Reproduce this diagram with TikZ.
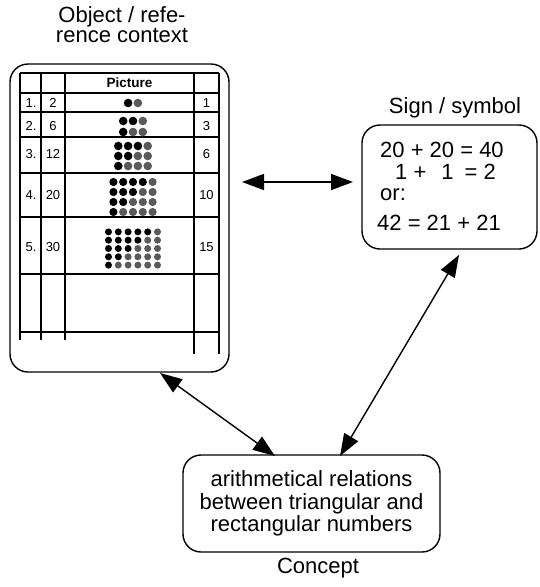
\documentclass[tikz,border=0pt]{standalone}
\usepackage{fontspec}
\setmainfont{Liberation Sans}
\usetikzlibrary{arrows.meta}

\begin{document}
\begin{tikzpicture}[x=1pt, y=-1pt,
	box/.style={draw, line width=1.4pt, rounded corners=18pt, inner sep=0pt},
	title/.style={font=\fontsize{22}{20.5}\selectfont, align=center, inner sep=0pt},
	sumline/.style={font=\fontsize{22}{22}\selectfont, inner sep=0pt, anchor=base west},
	cell/.style={font=\fontsize{13}{14}\selectfont, inner sep=0pt},
	rule/.style={line width=1.1pt},
	biarrow/.style={{Triangle[length=22pt,width=16pt]}-{Triangle[length=22pt,width=16pt]}, line width=1.4pt}]

	\useasboundingbox (0,0) rectangle (539,587);

	\definecolor{dotgrey}{HTML}{5A5A5A}

	% the three boxes
	\node[box, minimum width=219pt, minimum height=308pt] (obj) at (119.5,218) {};
	\node[box, minimum width=175pt, minimum height=124pt] (sign) at (449.5,187) {};
	\node[box, minimum width=257pt, minimum height=97pt, align=center,
		font=\fontsize{22}{22.5}\selectfont] (concept) at (311.5,503.5)
		{arithmetical relations\\between triangular and\\rectangular numbers};

	% titles
	\node[title, anchor=north] (objtitle) at (122,6) {Object / refe-\\rence context};
	\node[title, anchor=base] (signtitle) at (455,113) {Sign / symbol};
	\node[title, anchor=base] (concepttitle) at (318,573) {Concept};

	% sign / symbol text
	\node[sumline] (sum1) at (380,157) {20 + 20 = 40};
	\node[sumline] (sum2) at (395,179) {1 +\hspace{15pt}1\hspace{11pt}= 2};
	\node[sumline] (sumor) at (380,200) {or:};
	\node[sumline] (sum3) at (377,230) {42 = 21 + 21};

	% table grid
	\foreach \x in {20,41,65}
		\draw[rule] (\x,73) -- (\x,340);
	\foreach \x in {194,219}
		\draw[rule] (\x,73) -- (\x,354);
	\foreach \y in {73,93,112,137,173,217,274,332}
		\draw[rule] (20,\y) -- (219,\y);

	% table head and numbers
	\node[cell, font=\fontsize{13.5}{14}\selectfont\bfseries] (head) at (129.5,83) {Picture};
	\foreach \n/\y/\rect/\tri in {1/103/2/1, 2/126/6/3, 3/154/12/6, 4/195/20/10, 5/247/30/15} {
		\node[cell] (no\n) at (31,\y) {\n.};
		\node[cell] (rect\n) at (53,\y) {\rect};
		\node[cell] (tri\n) at (206.5,\y) {\tri};
	}

	% dot pictures (black staircase = triangular number)
	\foreach \n/\yc/\dy/\r in {1/103/10/4.3, 2/126.5/11/4.3, 3/156/10/4.3, 4/197/10/4.1, 5/248.5/8.3/3.5} {
		\foreach \i in {1,...,\n} {
			\pgfmathtruncatemacro\cols{\n+1}
			\pgfmathtruncatemacro\lim{\n+1-\i}
			\foreach \j in {1,...,\cols} {
				\pgfmathsetmacro\px{133+(\j-(\n+2)/2)*9.8}
				\pgfmathsetmacro\py{\yc+(\i-(\n+1)/2)*\dy}
				\ifnum\j>\lim \def\dotcol{dotgrey}\else\def\dotcol{black}\fi
				\fill[\dotcol] (\px,\py) circle[radius=\r pt];
			}
		}
	}

	% arrow ends
	\coordinate (objE) at (242,182);
	\coordinate (signW) at (353,182);
	\coordinate (objS) at (160,373);
	\coordinate (conceptL) at (275,456);
	\coordinate (signS) at (459,255);
	\coordinate (conceptR) at (340,456);

	% arrows
	\draw[biarrow] (objE) -- (signW);
	\draw[biarrow] (objS) -- (conceptL);
	\draw[biarrow] (signS) -- (conceptR);

\end{tikzpicture}
\end{document}
